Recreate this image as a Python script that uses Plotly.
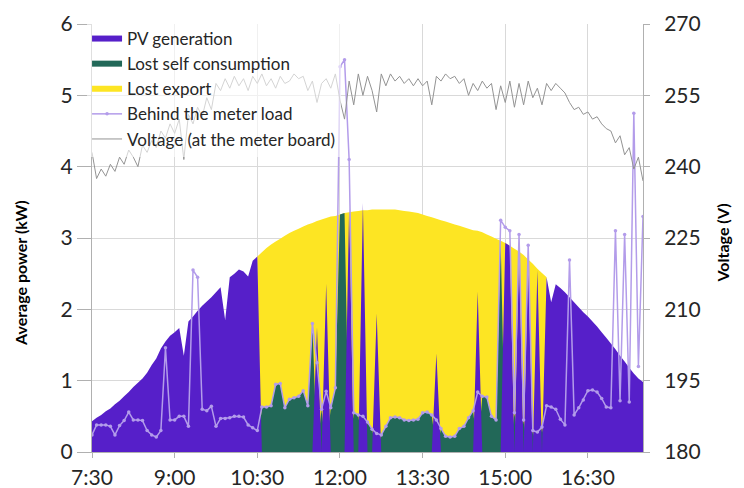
import plotly.graph_objects as go

# ---- time axis (5-minute samples from 7:30 to 17:30), in hours ----
times = [7.5 + k * 5 / 60 for k in range(121)]
tick_vals = [7.5, 9.0, 10.5, 12.0, 13.5, 15.0, 16.5]
tick_text = ["7:30", "9:00", "10:30", "12:00", "13:30", "15:00", "16:30"]

# ---- PV generation actually produced (kW) ----
pv_generation = [
    0.43, 0.48, 0.52, 0.57, 0.61, 0.67, 0.72, 0.78, 0.84, 0.91,
    0.97, 1.03, 1.11, 1.22, 1.31, 1.45, 1.55, 1.63, 1.68, 1.74,
    1.35, 1.83, 1.90, 1.98, 2.05, 2.11, 2.17, 2.24, 2.31, 1.85,
    2.45, 2.50, 2.56, 2.53, 2.46, 2.68, 2.74, 0, 0, 0,
    0, 0, 0, 0, 0, 0, 0, 0, 0, 1.75,
    0, 2.36, 0, 0, 0, 0, 3.42, 0, 0, 3.49,
    0, 0, 1.94, 0, 0, 0, 0, 0, 0, 0,
    0, 0, 0, 0, 0, 1.38, 0, 0, 0, 0,
    0, 0, 0, 0, 2.25, 0, 0, 0, 0, 0,
    2.93, 2.89, 0, 2.81, 0, 2.70, 0, 2.55, 0, 2.45,
    2.10, 2.35, 2.30, 2.24, 2.17, 2.10, 2.03, 1.96, 1.90, 1.83,
    1.76, 1.68, 1.60, 1.52, 1.44, 1.35, 1.27, 1.18, 1.10, 1.03,
    0.98,
]

# ---- lost self consumption (kW) ----
lost_self = [
    0, 0, 0, 0, 0, 0, 0, 0, 0, 0,
    0, 0, 0, 0, 0, 0, 0, 0, 0, 0,
    0, 0, 0, 0, 0, 0, 0, 0, 0, 0,
    0, 0, 0, 0, 0, 0, 0, 0.63, 0.63, 0.65,
    0.95, 0.96, 0.62, 0.74, 0.76, 0.78, 0.86, 0.65, 1.80, 0,
    0.60, 0, 0.62, 0.90, 3.33, 3.35, 0, 0.55, 0.52, 0,
    0.42, 0.32, 0, 0.24, 0.36, 0.48, 0.49, 0.48, 0.45, 0.44,
    0.45, 0.46, 0.55, 0.56, 0.52, 0, 0.33, 0.22, 0.21, 0.22,
    0.33, 0.36, 0.48, 0.58, 0, 0.78, 0.77, 0.50, 0.45, 2.96,
    0, 0, 0.55, 0, 0.45, 0, 0.30, 0, 0.35, 0,
    0, 0, 0, 0, 0, 0, 0, 0, 0, 0,
    0, 0, 0, 0, 0, 0, 0, 0, 0, 0,
    0,
]

# ---- lost export: potential PV during the curtailed window 10:30-15:45 (kW) ----
export_times = times[36:100]
lost_export_top = [
    2.74, 2.80, 2.86, 2.91, 2.95, 2.99, 3.03, 3.07, 3.10, 3.13,
    3.16, 3.19, 3.21, 3.24, 3.26, 3.28, 3.30, 3.31, 3.33, 3.35,
    3.36, 3.37, 3.38, 3.39, 3.39, 3.40, 3.40, 3.40, 3.40, 3.40,
    3.40, 3.39, 3.38, 3.37, 3.36, 3.35, 3.33, 3.31, 3.29, 3.27,
    3.25, 3.23, 3.21, 3.19, 3.17, 3.15, 3.13, 3.11, 3.10, 3.08,
    3.05, 3.02, 2.99, 2.96, 2.93, 2.89, 2.85, 2.81, 2.76, 2.70,
    2.64, 2.57, 2.51, 2.45,
]

# ---- behind the meter load (kW) ----
load = [
    0.24, 0.38, 0.38, 0.38, 0.36, 0.24, 0.37, 0.44, 0.56, 0.45,
    0.45, 0.44, 0.30, 0.24, 0.21, 0.30, 1.46, 0.45, 0.45, 0.50,
    0.50, 0.36, 2.55, 2.45, 0.60, 0.58, 0.64, 0.36, 0.47, 0.47,
    0.48, 0.50, 0.50, 0.49, 0.38, 0.34, 0.30, 0.63, 0.63, 0.65,
    0.95, 0.96, 0.62, 0.74, 0.76, 0.78, 0.86, 0.65, 1.80, 1.25,
    0.60, 0.85, 0.62, 0.90, 5.40, 5.50, 4.10, 0.55, 0.52, 0.50,
    0.42, 0.32, 0.26, 0.24, 0.36, 0.48, 0.49, 0.48, 0.45, 0.44,
    0.45, 0.46, 0.55, 0.56, 0.52, 0.45, 0.33, 0.22, 0.21, 0.22,
    0.33, 0.36, 0.48, 0.58, 0.84, 0.78, 0.77, 0.50, 0.45, 3.25,
    3.15, 3.10, 0.55, 3.05, 0.45, 2.90, 0.30, 0.28, 0.35, 0.65,
    0.63, 0.60, 0.46, 0.38, 2.69, 0.52, 0.62, 0.73, 0.86, 0.87,
    0.84, 0.75, 0.63, 0.62, 3.10, 0.72, 3.05, 0.70, 4.75, 1.20,
    3.30,
]

# ---- voltage at the meter board (V) ----
voltage = [
    243.0, 237.5, 239.5, 238.0, 240.5, 239.0, 242.0, 240.5, 243.5, 242.0,
    240.0, 244.5, 243.0, 245.5, 244.0, 247.5, 246.0, 249.0, 247.0, 250.0,
    241.5, 251.0, 249.0, 252.5, 250.5, 254.5, 252.0, 257.5, 256.0, 258.5,
    256.5, 259.0, 257.0, 258.5, 256.0, 259.0, 257.5, 259.5, 257.0, 258.5,
    256.5, 259.0, 257.5, 258.0, 259.5, 258.5, 259.0, 256.0, 258.0, 253.5,
    257.5, 258.5, 256.5, 259.5, 254.0, 250.0, 258.0, 253.0, 259.5, 255.0,
    259.0, 256.0, 251.5, 259.5, 257.0, 259.5, 258.0, 259.0, 257.5, 258.5,
    257.0, 258.5, 257.0, 258.0, 253.0, 259.0, 258.0, 259.5, 258.5, 259.0,
    257.5, 258.5, 255.0, 257.5, 256.0, 258.0, 256.5, 257.5, 252.0, 257.0,
    253.5, 258.0, 252.5, 257.5, 253.0, 258.0, 254.5, 256.5, 253.0, 257.5,
    256.0, 257.5, 256.5, 255.5, 253.5, 252.0, 252.5, 251.0, 251.5, 250.0,
    250.5, 249.0, 248.0, 247.5, 245.0, 246.5, 242.5, 244.0, 239.5, 242.0,
    237.0,
]

FONT = "Lato"
TXT = "#262626"
GRID = "#d9d9d9"
AXL = "#b0b0b0"

fig = go.Figure()

fig.add_trace(go.Scatter(
    x=export_times, y=lost_export_top, name="Lost export", mode="none",
    fill="tozeroy", fillcolor="#FDE523", legendrank=3, hoverinfo="skip"))
fig.add_trace(go.Scatter(
    x=times, y=lost_self, name="Lost self consumption", mode="none",
    fill="tozeroy", fillcolor="#226858", legendrank=2, hoverinfo="skip"))
fig.add_trace(go.Scatter(
    x=times, y=pv_generation, name="PV generation", mode="none",
    fill="tozeroy", fillcolor="#561FC9", legendrank=1, hoverinfo="skip"))
fig.add_trace(go.Scatter(
    x=times, y=load, name="Behind the meter load", mode="lines+markers",
    line=dict(color="#B39CEA", width=1.5),
    marker=dict(color="#B39CEA", size=3.5), legendrank=4))
fig.add_trace(go.Scatter(
    x=times, y=voltage, name="Voltage (at the meter board)", mode="lines",
    line=dict(color="#939393", width=1), yaxis="y2", legendrank=5))

# page body has an 8px margin, so the figure is sized/offset to compensate
fig.update_layout(
    width=736, height=480, autosize=False,
    margin=dict(l=84, r=101, t=16, b=36, autoexpand=False),
    paper_bgcolor="white", plot_bgcolor="white",
    font=dict(family=FONT, color=TXT, size=21),
    showlegend=True,
    legend=dict(x=-0.009, y=1.007, xanchor="left", yanchor="top",
                bgcolor="rgba(255,255,255,0.6)", font=dict(size=17, color=TXT),
                traceorder="normal", itemwidth=30),
    xaxis=dict(range=[7.5, 17.5], tickvals=tick_vals, ticktext=tick_text,
               showgrid=True, gridcolor=GRID, gridwidth=1,
               showline=True, linecolor=AXL, linewidth=1,
               ticks="outside", ticklen=5, tickcolor=AXL, ticklabelstandoff=2,
               tickfont=dict(size=21), zeroline=False, automargin=False),
    yaxis=dict(range=[0, 6], dtick=1, showgrid=True, gridcolor=GRID,
               showline=True, linecolor=AXL, ticks="outside", ticklen=14,
               tickcolor=AXL, tickfont=dict(size=21), zeroline=False,
               automargin=False),
    yaxis2=dict(range=[180, 270], dtick=15, overlaying="y", side="right",
                showgrid=False, showline=True, linecolor=AXL,
                ticks="outside", ticklen=6, tickcolor=AXL, ticklabelstandoff=10,
                tickfont=dict(size=21), zeroline=False, automargin=False),
    annotations=[
        dict(text="<b>Average power (kW)</b>", textangle=-90, xref="paper",
             yref="paper", x=-0.131, y=0.418, xanchor="center",
             yanchor="middle", showarrow=False,
             font=dict(size=16, family=FONT, color="black")),
        dict(text="<b>Voltage (V)</b>", textangle=-90, xref="paper",
             yref="paper", x=1.144, y=0.488, xanchor="center",
             yanchor="middle", showarrow=False,
             font=dict(size=16, family=FONT, color="black")),
    ],
)

fig.write_html("out.html")
